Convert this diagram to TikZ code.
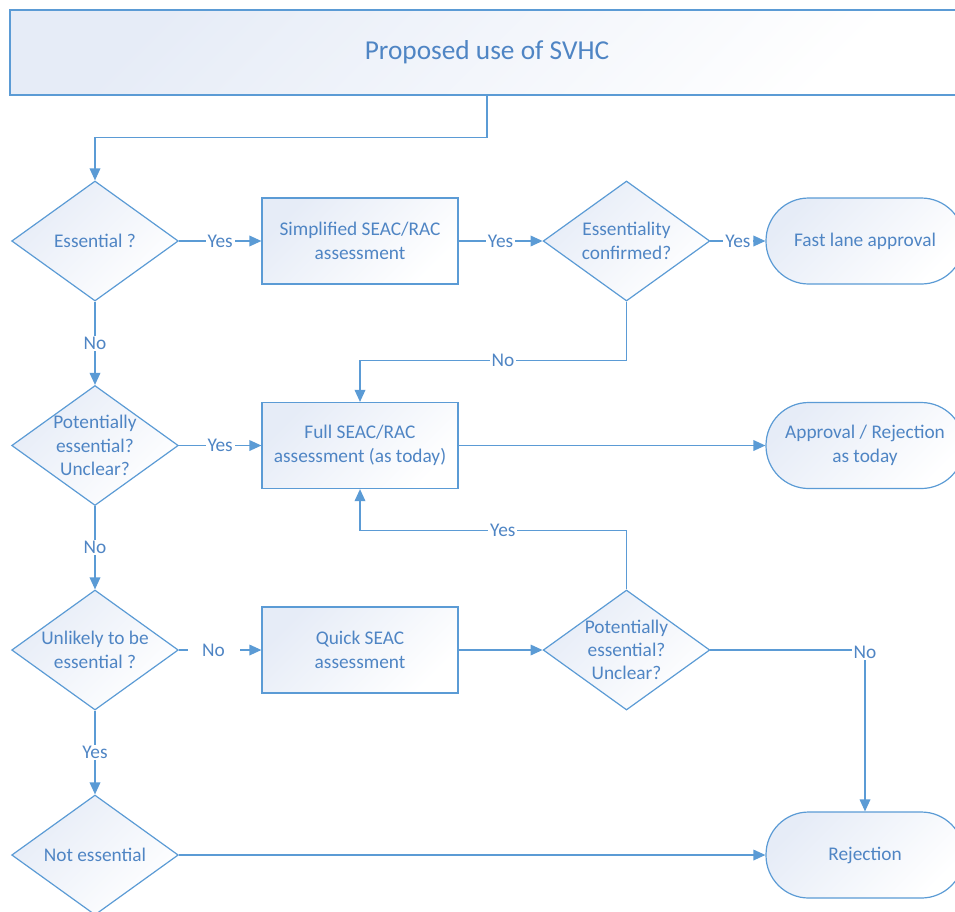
\documentclass[tikz,border=0pt]{standalone}
\usepackage{fontspec}
\setmainfont{Carlito}
\usetikzlibrary{shapes.geometric,arrows.meta}
\definecolor{lineblue}{HTML}{5B9BD5}
\definecolor{txtblue}{HTML}{4F85C4}
\definecolor{shadeblue}{HTML}{E6ECF7}
\begin{document}
\begin{tikzpicture}[x=0.75pt,y=-0.75pt,
  every node/.style={font=\fontsize{14.5pt}{17.5pt}\selectfont, text=txtblue},
  box/.style={draw=lineblue, line width=0.9pt, top color=shadeblue, bottom color=white, shading angle=45},
  diam/.style={diamond, box, minimum width=125pt, minimum height=90pt, inner sep=0pt},
  rbox/.style={rectangle, box, minimum width=147pt, minimum height=64.5pt, align=center, inner sep=0pt},
  term/.style={rectangle, box, rounded corners=32pt, minimum width=148.5pt, minimum height=64.5pt, align=center, inner sep=0pt},
  dtext/.style={align=center, inner sep=0pt},
  arr/.style={draw=lineblue, line width=1pt, -{Triangle[length=9pt,width=8pt]}},
  lbl/.style={fill=white, inner xsep=1.5pt, inner ysep=1pt}
]
\path[use as bounding box, clip] (0,0) rectangle (955,911);

% top box
\node[rectangle, box, minimum width=715.5pt, minimum height=63.75pt, inner sep=0pt,
      font=\fontsize{20.5pt}{24pt}\selectfont] (top) at (487,52.5) {Proposed use of SVHC};

% diamonds
\node[diam] (d1) at (95,241) {};
\node[dtext] (d1t) at (d1) {Essential ?};
\node[diam] (d2) at (626.5,241) {};
\node[dtext] (d2t) at (d2) {Essentiality\\confirmed?};
\node[diam] (d3) at (95,445.5) {};
\node[dtext] (d3t) at (d3) {Potentially\\essential?\\Unclear?};
\node[diam] (d4) at (95,650) {};
\node[dtext] (d4t) at (d4) {Unlikely to be\\essential ?};
\node[diam] (d5) at (626.5,650) {};
\node[dtext] (d5t) at (d5) {Potentially\\essential?\\Unclear?};
\node[diam] (d6) at (95,855) {};
\node[dtext] (d6t) at (d6) {Not essential};

% process boxes
\node[rbox] (r1) at (360,241) {Simplified SEAC/RAC\\assessment};
\node[rbox] (r2) at (360,445.5) {Full SEAC/RAC\\assessment (as today)};
\node[rbox] (r3) at (360,650) {Quick SEAC\\assessment};

% terminals
\node[term] (t1) at (865,241) {Fast lane approval};
\node[term] (t2) at (865,445.5) {Approval / Rejection\\as today};
\node[term] (t3) at (865,855) {Rejection};

% connectors
\draw[arr] (top.south) -- ++(0,42) -| (d1.north);
\draw[arr] (d1.east) -- node[lbl]{Yes} (r1.west);
\draw[arr] (r1.east) -- node[lbl]{Yes} (d2.west);
\draw[arr] (d2.east) -- node[lbl]{Yes} (t1.west);
\draw[arr] (d2.south) -- ++(0,59) -| node[lbl,pos=0.232]{No} (r2.north);
\draw[arr] (d1.south) -- node[lbl]{No} (d3.north);
\draw[arr] (d3.east) -- node[lbl]{Yes} (r2.west);
\draw[arr] (r2.east) -- (t2.west);
\draw[arr] (d3.south) -- node[lbl]{No} (d4.north);
\draw[arr] (d4.east) -- node[lbl,pos=0.42,inner xsep=11pt]{No} (r3.west);
\draw[arr] (r3.east) -- (d5.west);
\draw[arr] (d5.north) -- ++(0,-59) -| node[lbl,pos=0.232]{Yes} (r2.south);
\draw[arr] (d5.east) -| node[lbl,pos=0.5,yshift=-2pt]{No} (t3.north);
\draw[arr] (d4.south) -- node[lbl]{Yes} (d6.north);
\draw[arr] (d6.east) -- (t3.west);
\end{tikzpicture}
\end{document}
